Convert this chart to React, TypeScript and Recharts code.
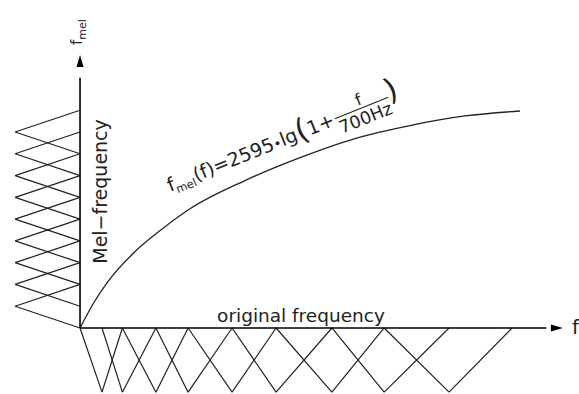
import { ComposedChart, Line, XAxis, YAxis, ReferenceLine, ReferenceDot } from 'recharts';

// mel curve (x in Hz, y in mel)
const CURVE_HZ = [0, 250, 500, 1000, 1500, 2000, 3000, 4000, 5000, 6000, 7000, 8000];
const CURVE_MEL = [0, 330, 600, 1000, 1300, 1560, 1930, 2230, 2480, 2650, 2775, 2840];

// filter edge/center points on the two axes
const HZ_CENTERS = [0, 400, 770, 1380, 1965, 2765, 3565, 4580, 5530, 6710, 7855];
const MEL_CENTERS = [0, 285, 570, 855, 1140, 1425, 1710, 1995, 2280, 2565, 2850];
const FILTER_DEPTH_HZ = 1180;
const FILTER_DEPTH_MEL = 840;

const X_DOMAIN = [-1455, 9073];
const Y_DOMAIN = [-864, 4293];
const X_AXIS_END = 8780;
const Y_AXIS_END = 3574;

const FONT = '"DejaVu Sans", "Liberation Sans", Arial, sans-serif';
const INK = '#222';

const curveData = CURVE_HZ.map((x, i) => ({ x, y: CURVE_MEL[i] }));

// triangles hanging below the frequency axis
const bottomFilters = HZ_CENTERS.slice(1, -1).map((c, i) => [
  { x: HZ_CENTERS[i], y: 0 },
  { x: c, y: -FILTER_DEPTH_MEL },
  { x: HZ_CENTERS[i + 2], y: 0 },
]);

// triangles sticking out left of the mel axis
const leftFilters = MEL_CENTERS.slice(1, -1).map((c, i) => [
  { x: 0, y: MEL_CENTERS[i] },
  { x: -FILTER_DEPTH_HZ, y: c },
  { x: 0, y: MEL_CENTERS[i + 2] },
]);

const arrowRight = (p: any) => (
  <polygon
    points={`${p.cx},${p.cy} ${p.cx - 12},${p.cy - 3.5} ${p.cx - 12},${p.cy + 3.5}`}
    fill="#000"
  />
);

const arrowUp = (p: any) => (
  <polygon
    points={`${p.cx},${p.cy} ${p.cx - 3.5},${p.cy + 12} ${p.cx + 3.5},${p.cy + 12}`}
    fill="#000"
  />
);

const FS = 19;
const FRAC_SIZE = 0.92; // relative size of the fraction text
const FRAC_GAP = 0.12; // em
const FRAC_START = 9.41 + FRAC_GAP; // em, where the fraction begins
const FRAC_WIDTH = 3.185 * FRAC_SIZE; // em, width of "700Hz"

const formulaLabel = (p: any) => {
  const { cx, cy } = p;
  return (
    <g transform={`rotate(-22, ${cx}, ${cy})`} fontFamily={FONT} fill={INK}>
      <text x={cx} y={cy} fontSize={FS}>
        <tspan>f</tspan>
        <tspan fontSize={FS * 0.6} dy={FS * 0.22}>mel</tspan>
        <tspan dy={-FS * 0.22}>(f)=2595</tspan>
        <tspan fontSize={FS * 0.7}>•</tspan>
        <tspan>lg</tspan>
        <tspan fontSize={FS * 1.6} dy={FS * 0.1}>(</tspan>
        <tspan dy={-FS * 0.1}>1+</tspan>
        <tspan fontSize={FS * FRAC_SIZE} dx={FS * FRAC_GAP} dy={FS * 0.55}>700Hz</tspan>
        <tspan fontSize={FS * 1.6} dy={-FS * 0.65}>)</tspan>
      </text>
      <line
        x1={cx + FS * (FRAC_START - 0.05)}
        x2={cx + FS * (FRAC_START + FRAC_WIDTH + 0.05)}
        y1={cy - FS * 0.33}
        y2={cy - FS * 0.33}
        stroke={INK}
        strokeWidth={1.1}
      />
      <text
        x={cx + FS * (FRAC_START + FRAC_WIDTH / 2)}
        y={cy - FS * 0.5}
        fontSize={FS * 0.85}
        textAnchor="middle"
      >
        f
      </text>
    </g>
  );
};

const melAxisTitle = (p: any) => (
  <text
    x={p.cx}
    y={p.cy}
    transform={`rotate(-90, ${p.cx}, ${p.cy})`}
    fontFamily={FONT}
    fontSize={15}
    fill={INK}
  >
    <tspan>f</tspan>
    <tspan fontSize={11} dy={4}>mel</tspan>
  </text>
);

const melFreqLabel = (p: any) => (
  <text
    x={p.cx}
    y={p.cy}
    transform={`rotate(-90, ${p.cx}, ${p.cy})`}
    fontFamily={FONT}
    fontSize={19}
    fill={INK}
    textAnchor="middle"
  >
    Mel−frequency
  </text>
);

const origFreqLabel = (p: any) => (
  <text x={p.cx} y={p.cy} fontFamily={FONT} fontSize={18.5} fill={INK} textAnchor="middle">
    original frequency
  </text>
);

const fLabel = (p: any) => (
  <text x={p.cx} y={p.cy} fontFamily={FONT} fontSize={20} fill={INK}>
    f
  </text>
);

export default function App() {
  return (
    <div style={{ position: 'absolute', left: 0, top: 0, background: '#fff' }}>
      <ComposedChart width={579} height={394} margin={{ top: 0, right: 0, bottom: 0, left: 0 }}>
        <XAxis type="number" dataKey="x" domain={X_DOMAIN} allowDataOverflow hide />
        <YAxis type="number" domain={Y_DOMAIN} allowDataOverflow hide />

        {bottomFilters.map((pts, i) => (
          <Line
            key={`b-${i}`}
            data={pts}
            dataKey="y"
            type="linear"
            stroke={INK}
            strokeWidth={1.2}
            strokeLinejoin="bevel"
            dot={false}
            activeDot={false}
            isAnimationActive={false}
          />
        ))}
        {leftFilters.map((pts, i) => (
          <Line
            key={`l-${i}`}
            data={pts}
            dataKey="y"
            type="linear"
            stroke={INK}
            strokeWidth={1.2}
            strokeLinejoin="bevel"
            dot={false}
            activeDot={false}
            isAnimationActive={false}
          />
        ))}

        <Line
          data={curveData}
          dataKey="y"
          type="monotone"
          stroke={INK}
          strokeWidth={1.3}
          dot={false}
          activeDot={false}
          isAnimationActive={false}
        />

        {/* axes */}
        <ReferenceLine
          segment={[{ x: 0, y: 0 }, { x: X_AXIS_END - 300, y: 0 }]}
          stroke="#000"
          strokeWidth={1.6}
        />
        <ReferenceLine
          segment={[{ x: 0, y: 0 }, { x: 0, y: Y_AXIS_END - 300 }]}
          stroke="#000"
          strokeWidth={1.6}
        />
        <ReferenceDot x={X_AXIS_END} y={0} shape={arrowRight} />
        <ReferenceDot x={0} y={Y_AXIS_END} shape={arrowUp} />

        {/* labels */}
        <ReferenceDot x={8945} y={-79} shape={fLabel} />
        <ReferenceDot x={40} y={3704} shape={melAxisTitle} />
        <ReferenceDot x={491} y={1787} shape={melFreqLabel} />
        <ReferenceDot x={4018} y={79} shape={origFreqLabel} />
        <ReferenceDot x={1640} y={1780} shape={formulaLabel} />
      </ComposedChart>
    </div>
  );
}
